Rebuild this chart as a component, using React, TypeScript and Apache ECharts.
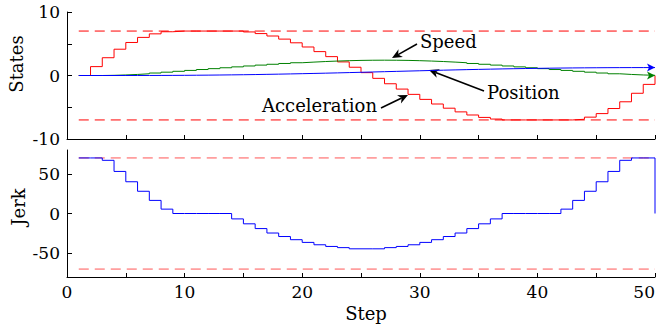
import React, { useEffect, useRef } from "react";
import * as echarts from "echarts";

// ---------------- data ----------------
const steps = [
  1, 2, 3, 4, 5, 6, 7, 8, 9, 10, 11, 12, 13, 14, 15, 16, 17, 18, 19, 20, 21, 22, 23, 24, 25,
  26, 27, 28, 29, 30, 31, 32, 33, 34, 35, 36, 37, 38, 39, 40, 41, 42, 43, 44, 45, 46, 47, 48, 49, 50,
];
const acceleration = [
  0, 1.4, 2.8, 4.14, 5.2, 6.0, 6.56, 6.89, 7.0, 7.0, 7.0, 7.0, 7.0, 7.0, 6.86, 6.6, 6.22, 5.73, 5.15,
  4.49, 3.76, 2.97, 2.14, 1.3, 0.45, -0.45, -1.3, -2.14, -2.97, -3.76, -4.49, -5.15, -5.73, -6.22, -6.6,
  -6.86, -7.0, -7.0, -7.0, -7.0, -7.0, -7.0, -6.89, -6.56, -6.0, -5.2, -4.14, -2.8, -1.4, 0,
];
const speed = [
  0, 0, 0.028, 0.084, 0.167, 0.271, 0.391, 0.522, 0.66, 0.8, 0.94, 1.08, 1.22, 1.36, 1.5, 1.637, 1.769,
  1.893, 2.008, 2.111, 2.201, 2.276, 2.335, 2.378, 2.404, 2.413, 2.404, 2.378, 2.335, 2.276, 2.201, 2.111,
  2.008, 1.893, 1.769, 1.637, 1.5, 1.36, 1.22, 1.08, 0.94, 0.8, 0.66, 0.522, 0.391, 0.271, 0.167, 0.084,
  0.028, 0,
];
const position = [
  0, 0, 0, 0.001, 0.002, 0.006, 0.011, 0.019, 0.029, 0.042, 0.058, 0.077, 0.099, 0.123, 0.15, 0.18, 0.213,
  0.249, 0.286, 0.327, 0.369, 0.413, 0.458, 0.505, 0.553, 0.601, 0.649, 0.697, 0.745, 0.791, 0.837, 0.881,
  0.923, 0.963, 1.001, 1.036, 1.069, 1.099, 1.126, 1.151, 1.172, 1.191, 1.207, 1.22, 1.231, 1.239, 1.244,
  1.247, 1.249, 1.25,
];
const jerk = [
  70, 70, 67, 53, 40, 28, 16.5, 5.5, 0, 0, 0, 0, 0, -6.8, -13, -19, -24.6, -29, -33, -36.4, -39.4, -41.5,
  -43, -44.5, -44.5, -44.5, -43, -41.5, -39.4, -36.4, -33, -29, -24.6, -19, -13, -6.8, 0, 0, 0, 0, 0, 5.5,
  16.5, 28, 40, 53, 67, 70, 70, 0,
];
const accelLimits = [7, -7];
const jerkLimits = [70, -70];
const limitSpan = [1, 50];

const stepTicks = [0, 5, 10, 15, 20, 25, 30, 35, 40, 45, 50];
const stepLabels = [0, 10, 20, 30, 40, 50];
const statesTicks = [-10, -5, 0, 5, 10];
const statesLabels = [-10, 0, 10];
const jerkTicks = [-50, 0, 50];
const jerkLabels = [-50, 0, 50];

const FONT = "DejaVu Serif";

function toPoints(arr: number[], arrowEnd: boolean) {
  return steps.map((x, i) => {
    if (arrowEnd && i === steps.length - 1) {
      return { value: [x, arr[i]], symbol: "arrow", symbolSize: [6, 8], symbolRotate: -90 };
    }
    return [x, arr[i]];
  });
}

function arrowGraphic(tx: number, ty: number, hx: number, hy: number) {
  const dx = hx - tx;
  const dy = hy - ty;
  const len = Math.sqrt(dx * dx + dy * dy);
  const ux = dx / len;
  const uy = dy / len;
  const px = -uy;
  const py = ux;
  const L = 10;
  const W = 4.5;
  const bx = hx - ux * L;
  const by = hy - uy * L;
  const nx = hx - ux * L * 0.7;
  const ny = hy - uy * L * 0.7;
  return [
    {
      type: "line",
      shape: { x1: tx, y1: ty, x2: nx, y2: ny },
      style: { stroke: "#000", lineWidth: 1.6 },
      silent: true,
    },
    {
      type: "polygon",
      shape: {
        points: [
          [hx, hy],
          [bx + px * W, by + py * W],
          [nx, ny],
          [bx - px * W, by - py * W],
        ],
      },
      style: { fill: "#000" },
      silent: true,
    },
  ];
}

function limitSeries(value: number, xi: number, color: string) {
  return {
    type: "line",
    xAxisIndex: xi,
    yAxisIndex: xi,
    data: [
      [limitSpan[0], value],
      [limitSpan[1], value],
    ],
    symbol: "none",
    silent: true,
    lineStyle: { color, width: 1, type: [10, 6] },
  };
}

export default function App() {
  const ref = useRef<HTMLDivElement>(null);
  useEffect(() => {
    if (!ref.current) return;
    const chart = echarts.init(ref.current, undefined, { renderer: "svg" });
    const labelStyle = { fontFamily: FONT, fontSize: 17, color: "#000" };
    const axisLine = { show: true, onZero: false, lineStyle: { color: "#000", width: 1 } };
    const option: any = {
      animation: false,
      backgroundColor: "#fff",
      grid: [
        { left: 67, right: 1, top: 12, height: 127, containLabel: false, outerBoundsMode: "none" },
        { left: 67, right: 1, top: 150, height: 127, containLabel: false, outerBoundsMode: "none" },
      ],
      xAxis: [
        {
          gridIndex: 0,
          type: "value",
          min: 0,
          max: 50,
          axisLine,
          axisTick: { show: true, inside: true, length: 4, customValues: stepTicks, lineStyle: { color: "#000" } },
          axisLabel: { show: false },
          splitLine: { show: false },
        },
        {
          gridIndex: 1,
          type: "value",
          min: 0,
          max: 50,
          axisLine,
          axisTick: { show: true, inside: true, length: 4, customValues: stepTicks, lineStyle: { color: "#000" } },
          axisLabel: { ...labelStyle, customValues: stepLabels, margin: 6, alignMaxLabel: "right" },
          splitLine: { show: false },
        },
      ],
      yAxis: [
        {
          gridIndex: 0,
          type: "value",
          min: -10,
          max: 10,
          axisLine,
          axisTick: { show: true, inside: true, length: 5, customValues: statesTicks, lineStyle: { color: "#000" } },
          axisLabel: { ...labelStyle, customValues: statesLabels, margin: 7 },
          splitLine: { show: false },
        },
        {
          gridIndex: 1,
          type: "value",
          min: -80,
          max: 80,
          axisLine,
          axisTick: { show: true, inside: true, length: 5, customValues: jerkTicks, lineStyle: { color: "#000" } },
          axisLabel: { ...labelStyle, customValues: jerkLabels, margin: 7 },
          splitLine: { show: false },
        },
      ],
      series: [
        limitSeries(accelLimits[0], 0, "#ff0000"),
        limitSeries(accelLimits[1], 0, "#ff0000"),
        limitSeries(jerkLimits[0], 1, "#ff5555"),
        limitSeries(jerkLimits[1], 1, "#ff5555"),
        {
          name: "Acceleration",
          type: "line",
          xAxisIndex: 0,
          yAxisIndex: 0,
          step: "end",
          data: toPoints(acceleration, false),
          symbol: "none",
          lineStyle: { color: "#ff0000", width: 1 },
        },
        {
          name: "Speed",
          type: "line",
          xAxisIndex: 0,
          yAxisIndex: 0,
          step: "end",
          data: toPoints(speed, true),
          symbol: "none",
          showSymbol: true,
          itemStyle: { color: "#008000" },
          lineStyle: { color: "#008000", width: 1 },
        },
        {
          name: "Position",
          type: "line",
          xAxisIndex: 0,
          yAxisIndex: 0,
          step: "end",
          data: toPoints(position, true),
          symbol: "none",
          showSymbol: true,
          itemStyle: { color: "#0000ff" },
          lineStyle: { color: "#0000ff", width: 1 },
        },
        {
          name: "Jerk",
          type: "line",
          xAxisIndex: 1,
          yAxisIndex: 1,
          step: "end",
          data: toPoints(jerk, false),
          symbol: "none",
          lineStyle: { color: "#0000ff", width: 1 },
        },
      ],
      graphic: [
        {
          type: "text",
          x: 16,
          y: 64,
          rotation: Math.PI / 2,
          style: { text: "States", font: `18px "${FONT}"`, fill: "#000", align: "center", verticalAlign: "middle" },
        },
        {
          type: "text",
          x: 18,
          y: 207,
          rotation: Math.PI / 2,
          style: { text: "Jerk", font: `18px "${FONT}"`, fill: "#000", align: "center", verticalAlign: "middle" },
        },
        {
          type: "text",
          x: 366,
          y: 313,
          style: { text: "Step", font: `18px "${FONT}"`, fill: "#000", align: "center", verticalAlign: "middle" },
        },
        {
          type: "text",
          x: 420,
          y: 41,
          style: { text: "Speed", font: `18px "${FONT}"`, fill: "#000", align: "left", verticalAlign: "middle" },
        },
        {
          type: "text",
          x: 487,
          y: 92,
          style: { text: "Position", font: `18px "${FONT}"`, fill: "#000", align: "left", verticalAlign: "middle" },
        },
        {
          type: "text",
          x: 262,
          y: 105,
          style: { text: "Acceleration", font: `18px "${FONT}"`, fill: "#000", align: "left", verticalAlign: "middle" },
        },
        ...arrowGraphic(417, 44, 392, 58),
        ...arrowGraphic(484, 91, 429, 70),
        ...arrowGraphic(381, 108, 408, 95),
      ],
    };
    chart.setOption(option);
    return () => chart.dispose();
  }, []);
  return (
    <div
      ref={ref}
      style={{ position: "absolute", left: 0, top: 0, width: 656, height: 327, background: "#fff" }}
    />
  );
}
